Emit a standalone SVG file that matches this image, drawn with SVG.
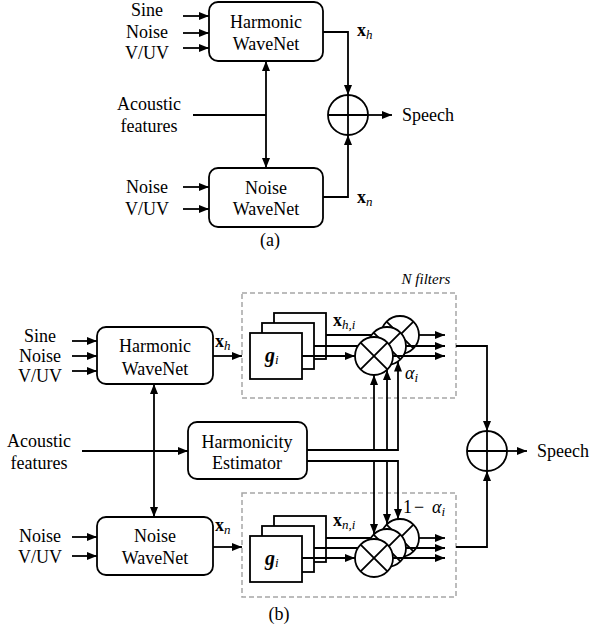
<svg xmlns="http://www.w3.org/2000/svg" width="592" height="632" viewBox="0 0 592 632">
<defs>
<marker id="arr" viewBox="0 0 10 8" refX="10" refY="4" markerWidth="10" markerHeight="8" markerUnits="userSpaceOnUse" orient="auto-start-reverse"><path d="M0,0 L10,4 L0,8 z" fill="#000"/></marker>
<g id="mult"><circle r="19" fill="#fff" stroke="#000" stroke-width="1.8"/><path d="M-13.4,-13.4 L13.4,13.4 M-13.4,13.4 L13.4,-13.4" stroke="#000" stroke-width="1.8"/></g>
<g id="plus"><circle r="20" fill="#fff" stroke="#000" stroke-width="1.8"/><path d="M-20,0 H20 M0,-20 V20" stroke="#000" stroke-width="1.8"/></g>
</defs>
<style>
text{font-family:"Liberation Serif","Times New Roman",serif;font-size:18px;fill:#000}
.box{fill:#fff;stroke:#000;stroke-width:1.8}
.ln{fill:none;stroke:#000;stroke-width:1.8}
.ar{marker-end:url(#arr)}
.ar2{marker-start:url(#arr);marker-end:url(#arr)}
.dash{fill:none;stroke:#a6a6a6;stroke-width:1.5;stroke-dasharray:5 3}
.c{text-anchor:middle}
.sub{font-size:13px;font-style:italic}
.b{font-weight:bold}
</style>
<rect width="592" height="632" fill="#fff"/>

<!-- (a) -->
<g id="a-harmonic"><rect class="box" x="209" y="2" width="114" height="59" rx="9"/><text class="c" x="266" y="28">Harmonic</text><text class="c" x="266" y="50">WaveNet</text></g>
<g id="a-noise"><rect class="box" x="209" y="168" width="114" height="59" rx="9"/><text class="c" x="266" y="194">Noise</text><text class="c" x="266" y="215">WaveNet</text></g>
<g id="a-plus"><use href="#plus" x="348" y="115"/></g>
<g id="a-labels">
<text class="c" x="147" y="16">Sine</text><text class="c" x="147" y="38">Noise</text><text class="c" x="147" y="59">V/UV</text>
<text class="c" x="149" y="110">Acoustic</text><text class="c" x="149" y="132">features</text>
<text class="c" x="147" y="193">Noise</text><text class="c" x="147" y="215">V/UV</text>
<text x="357" y="36"><tspan class="b">x</tspan><tspan class="sub" dy="3">h</tspan></text>
<text x="357" y="203"><tspan class="b">x</tspan><tspan class="sub" dy="3">n</tspan></text>
<text x="402" y="121">Speech</text>
<text class="c" x="270" y="246">(a)</text>
</g>

<!-- (b) -->
<g id="b-harmonic"><rect class="box" x="97" y="327" width="116" height="57" rx="9"/><text class="c" x="155" y="352">Harmonic</text><text class="c" x="155" y="375">WaveNet</text></g>
<g id="b-estimator"><rect class="box" x="188" y="422" width="119" height="57" rx="9"/><text class="c" x="247" y="448">Harmonicity</text><text class="c" x="247" y="469">Estimator</text></g>
<g id="b-noise"><rect class="box" x="97" y="517" width="116" height="58" rx="9"/><text class="c" x="155" y="542">Noise</text><text class="c" x="155" y="564">WaveNet</text></g>

<g id="b-hfilters">
<rect class="dash" x="242" y="293" width="214" height="105"/>
<text x="426" y="284" class="c" style="font-style:italic;font-size:15px">N filters</text>
<rect class="box" x="274" y="313" width="52" height="46"/>
<rect class="box" x="262" y="323" width="52" height="46"/>
<rect class="box" x="250" y="333" width="52" height="46"/>
<text x="265" y="362"><tspan style="font-weight:bold;font-style:italic;font-size:20px">g</tspan><tspan class="sub" dy="2">i</tspan></text>
<use href="#mult" x="400" y="335"/>
<use href="#mult" x="387" y="346"/>
<use href="#mult" x="374" y="356"/>
<text x="333" y="326"><tspan class="b">x</tspan><tspan class="sub" dy="3">h,i</tspan></text>
<text x="405" y="379" style="font-style:italic">α<tspan class="sub" dy="3">i</tspan></text>
</g>

<g id="b-nfilters">
<rect class="dash" x="242" y="493" width="214" height="104"/>
<rect class="box" x="274" y="516" width="52" height="46"/>
<rect class="box" x="262" y="526" width="52" height="46"/>
<rect class="box" x="250" y="536" width="52" height="46"/>
<text x="265" y="565"><tspan style="font-weight:bold;font-style:italic;font-size:20px">g</tspan><tspan class="sub" dy="2">i</tspan></text>
<use href="#mult" x="400" y="538"/>
<use href="#mult" x="387" y="548"/>
<use href="#mult" x="374" y="558"/>
<text x="333" y="526"><tspan class="b">x</tspan><tspan class="sub" dy="3">n,i</tspan></text>
<text x="403" y="513">1</text><text x="414" y="513">−</text><text x="432" y="513" style="font-style:italic">α<tspan class="sub" dy="3">i</tspan></text>
</g>

<g id="b-plus"><use href="#plus" x="487" y="451"/></g>

<g id="b-labels">
<text class="c" x="40" y="342">Sine</text><text class="c" x="40" y="362">Noise</text><text class="c" x="40" y="382">V/UV</text>
<text class="c" x="39" y="447">Acoustic</text><text class="c" x="39" y="469">features</text>
<text class="c" x="40" y="542">Noise</text><text class="c" x="40" y="563">V/UV</text>
<text x="215" y="347"><tspan class="b">x</tspan><tspan class="sub" dy="3">h</tspan></text>
<text x="215" y="531"><tspan class="b">x</tspan><tspan class="sub" dy="3">n</tspan></text>
<text x="537" y="457">Speech</text>
<text class="c" x="279" y="620">(b)</text>
</g>

<g id="connectors">
<!-- (a) -->
<path class="ln ar" d="M183 16 H209"/>
<path class="ln ar" d="M183 33 H209"/>
<path class="ln ar" d="M183 48 H209"/>
<path class="ln ar" d="M183 187 H209"/>
<path class="ln ar" d="M183 209 H209"/>
<path class="ln ar" d="M323 32 H348 V95"/>
<path class="ln ar" d="M323 197 H348 V135"/>
<path class="ln ar" d="M368 115 H392"/>
<path class="ln" d="M193 115 H266"/>
<path class="ln ar2" d="M266 61 V168"/>
<!-- (b) inputs -->
<path class="ln ar" d="M72 341 H97"/>
<path class="ln ar" d="M72 356 H97"/>
<path class="ln ar" d="M72 371 H97"/>
<path class="ln ar" d="M72 537 H97"/>
<path class="ln ar" d="M72 556 H97"/>
<path class="ln ar" d="M82 451 H188"/>
<path class="ln ar2" d="M154 384 V517"/>
<path class="ln ar" d="M213 356 H242"/>
<path class="ln ar" d="M213 547 H242"/>
<!-- top filters -->
<path class="ln" d="M326 335 H371.5"/>
<path class="ln" d="M314 346 H357.8"/>
<path class="ln ar" d="M302 356 H355"/>
<path class="ln ar" d="M419 335 H445"/>
<path class="ln ar" d="M406 346 H445"/>
<path class="ln ar" d="M393 356 H445"/>
<!-- bottom filters -->
<path class="ln" d="M326 538 H370.8"/>
<path class="ln" d="M314 548 H357.8"/>
<path class="ln ar" d="M302 558 H355"/>
<path class="ln ar" d="M419 538 H445"/>
<path class="ln ar" d="M406 548 H445"/>
<path class="ln ar" d="M393 558 H445"/>
<!-- estimator to gains -->
<path class="ln ar" d="M307 450 H398 V361.5"/>
<path class="ln ar" d="M374 450 V375"/>
<path class="ln ar" d="M387 450 V370"/>
<path class="ln ar" d="M307 461 H398 V519"/>
<path class="ln ar" d="M374 461 V534"/>
<path class="ln ar" d="M387 461 V524"/>
<!-- to sum -->
<path class="ln ar" d="M456 346 H487 V431"/>
<path class="ln ar" d="M456 547 H487 V471"/>
<path class="ln ar" d="M507 451 H527"/>
</g>
</svg>
